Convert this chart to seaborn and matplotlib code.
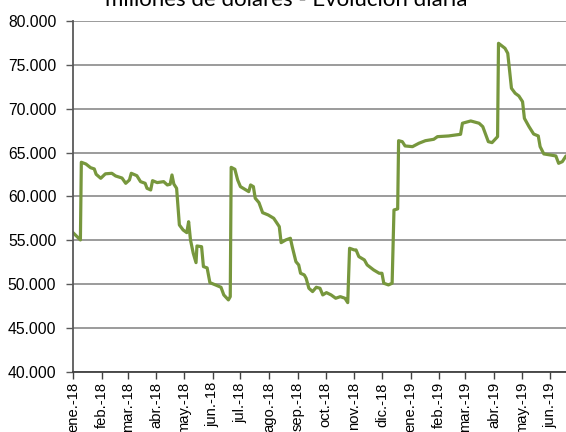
import matplotlib
matplotlib.use("Agg")
import matplotlib.pyplot as plt
from matplotlib.ticker import FuncFormatter, MultipleLocator
import seaborn as sns
import pandas as pd

# ---- data (millions of USD, daily evolution; key points) ----
dates = [
    "2018-01-01", "2018-01-09", "2018-01-10", "2018-01-15", "2018-01-20", "2018-01-24",
    "2018-01-26", "2018-01-31", "2018-02-05", "2018-02-12", "2018-02-16", "2018-02-23",
    "2018-02-27", "2018-03-03", "2018-03-05", "2018-03-11", "2018-03-15", "2018-03-20",
    "2018-03-22", "2018-03-26", "2018-03-28", "2018-04-02", "2018-04-09", "2018-04-13",
    "2018-04-16", "2018-04-18", "2018-04-20", "2018-04-23", "2018-04-26", "2018-04-30",
    "2018-05-04", "2018-05-06", "2018-05-08", "2018-05-11", "2018-05-14", "2018-05-15",
    "2018-05-20", "2018-05-22", "2018-05-26", "2018-05-29", "2018-06-04", "2018-06-10",
    "2018-06-13", "2018-06-18", "2018-06-20", "2018-06-21", "2018-06-25", "2018-06-28",
    "2018-07-01", "2018-07-10", "2018-07-12", "2018-07-15", "2018-07-17", "2018-07-21",
    "2018-07-25", "2018-07-31", "2018-08-06", "2018-08-12", "2018-08-14", "2018-08-19",
    "2018-08-24", "2018-08-26", "2018-08-30", "2018-09-02", "2018-09-04", "2018-09-08",
    "2018-09-10", "2018-09-13", "2018-09-17", "2018-09-21", "2018-09-25", "2018-09-28",
    "2018-10-02", "2018-10-07", "2018-10-12", "2018-10-17", "2018-10-22", "2018-10-25",
    "2018-10-27", "2018-11-01", "2018-11-03", "2018-11-06", "2018-11-12", "2018-11-15",
    "2018-11-22", "2018-11-28", "2018-12-01", "2018-12-03", "2018-12-08", "2018-12-12",
    "2018-12-14", "2018-12-18", "2018-12-19", "2018-12-23", "2018-12-26", "2019-01-03",
    "2019-01-10", "2019-01-17", "2019-01-26", "2019-01-30", "2019-02-11", "2019-02-24",
    "2019-02-26", "2019-03-07", "2019-03-16", "2019-03-20", "2019-03-26", "2019-03-30",
    "2019-04-05", "2019-04-06", "2019-04-13", "2019-04-16", "2019-04-20", "2019-04-24",
    "2019-04-28", "2019-05-02", "2019-05-04", "2019-05-09", "2019-05-14", "2019-05-19",
    "2019-05-21", "2019-05-25", "2019-06-01", "2019-06-07", "2019-06-10", "2019-06-14",
    "2019-06-18",
]
reserves = [
    55870, 55040, 63900, 63700, 63280, 63140,
    62530, 62070, 62580, 62640, 62340, 62100,
    61500, 61880, 62640, 62370, 61690, 61500,
    60930, 60740, 61800, 61580, 61690, 61310,
    61390, 62450, 61420, 60930, 56750, 56180,
    55870, 57120, 55040, 53520, 52450, 54350,
    54270, 52000, 51850, 50170, 49910, 49640,
    48770, 48200, 48570, 63320, 63100, 61880,
    61120, 60550, 61310, 61120, 59800, 59300,
    58150, 57890, 57510, 56560, 54730, 55040,
    55230, 54270, 52560, 52190, 51240, 51050,
    50670, 49530, 49150, 49640, 49530, 48770,
    49030, 48770, 48390, 48570, 48390, 47890,
    54090, 53900, 53900, 53140, 52760, 52190,
    51620, 51240, 51240, 50100, 49910, 50100,
    58460, 58580, 66360, 66250, 65760, 65680,
    66070, 66360, 66520, 66820, 66900, 67090,
    68350, 68610, 68350, 67960, 66250, 66140,
    66820, 77470, 76900, 76330, 72340, 71770,
    71460, 70810, 68910, 67960, 67120, 66900,
    65680, 64850, 64730, 64620, 63780, 63970,
    64620,
]
month_labels = ["ene.-18", "feb.-18", "mar.-18", "abr.-18", "may.-18", "jun.-18",
                "jul.-18", "ago.-18", "sep.-18", "oct.-18", "nov.-18", "dic.-18",
                "ene.-19", "feb.-19", "mar.-19", "abr.-19", "may.-19", "jun.-19"]
title = "millones de dólares - Evolución diaria"

df = pd.DataFrame({"fecha": pd.to_datetime(dates), "valor": reserves})

sns.set_theme(style="white")
plt.rcParams["font.family"] = ["Liberation Sans", "DejaVu Sans"]

fig = plt.figure(figsize=(5.66, 4.32), dpi=100)
# axes extends past the right edge (reference image is cropped there)
ax_left = 73.0 / 566
ax_bottom = 1 - 371.8 / 432
ax_height = (371.8 - 21.1) / 432
ax_width = (540 * 0.925) / 566
ax = fig.add_axes([ax_left, ax_bottom, ax_width, ax_height])

sns.lineplot(data=df, x="fecha", y="valor", ax=ax, color="#77973D", linewidth=2.3,
             solid_joinstyle="round")

start = pd.Timestamp("2018-01-01")
ax.set_xlim(start, start + pd.Timedelta(days=540))
ax.set_ylim(40000, 80000)

ax.yaxis.set_major_locator(MultipleLocator(5000))
ax.yaxis.set_major_formatter(FuncFormatter(lambda v, p: f"{int(v):,}".replace(",", ".")))
ax.grid(axis="y", color="#808080", linewidth=1.1)
ax.set_axisbelow(True)

ticks = pd.date_range("2018-01-01", periods=len(month_labels), freq="MS")
ax.set_xticks(ticks)
ax.set_xticklabels(month_labels, rotation=90, va="top", ha="center")

for s in ["top", "right"]:
    ax.spines[s].set_visible(False)
ax.spines["left"].set_color("#595959")
ax.spines["left"].set_linewidth(1.3)
ax.spines["bottom"].set_color("#404040")
ax.spines["bottom"].set_linewidth(1.3)

ax.tick_params(axis="y", which="major", left=True, length=5, width=1, color="#595959",
               pad=7, labelsize=11.3, labelcolor="black")
ax.tick_params(axis="x", which="major", bottom=True, length=5, width=1, color="#404040",
               pad=2.5, labelsize=10.6, labelcolor="black")
ax.set_xlabel("")
ax.set_ylabel("")

fig.text(0.505, 1 - 5.5 / 432, title, ha="center", va="baseline", fontsize=16,
         family=["Lato", "DejaVu Sans"], color="black")

fig.savefig("out.png", dpi=100)
